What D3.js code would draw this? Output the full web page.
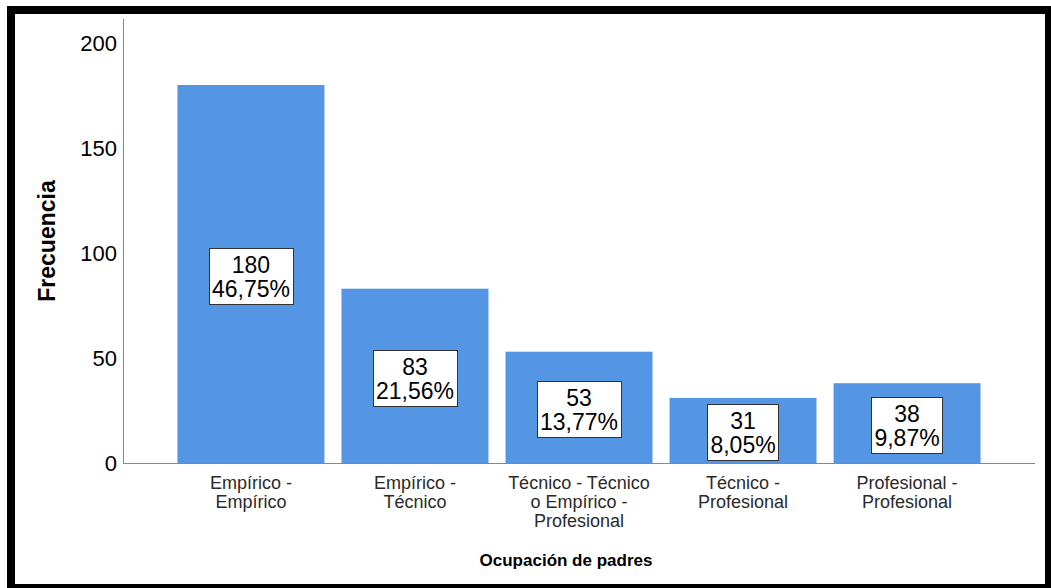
<!DOCTYPE html>
<html>
<head>
<meta charset="utf-8">
<script src="https://cdn.jsdelivr.net/npm/d3@7"></script>
<style>
  body { margin: 0; background: #fff; }
  svg text { font-family: "Liberation Sans", Arial, sans-serif; }
</style>
</head>
<body>
<script>
var width = 1051;
var height = 588;

// data
var categories = [
    ["Empírico -", "Empírico"],
    ["Empírico -", "Técnico"],
    ["Técnico - Técnico", "o Empírico -", "Profesional"],
    ["Técnico -", "Profesional"],
    ["Profesional -", "Profesional"]
];
var counts = [180, 83, 53, 31, 38];
var percents = ["46,75%", "21,56%", "13,77%", "8,05%", "9,87%"];
var yTicks = [0, 50, 100, 150, 200];

var plotLeft = 123, plotRight = 1035, plotTop = 43, plotBottom = 463;

var svg = d3.select("body").append("svg")
    .attr("width", width)
    .attr("height", height);

svg.append("rect")
    .attr("x", 11).attr("y", 10)
    .attr("width", 1038).attr("height", 578)
    .attr("fill", "none")
    .attr("stroke", "#000")
    .attr("stroke-width", 8);

var x = d3.scaleBand()
    .domain(d3.range(counts.length))
    .range([plotLeft, plotRight])
    .paddingInner(0.104)
    .paddingOuter(0.332);

var y = d3.scaleLinear()
    .domain([0, 200])
    .range([plotBottom, plotTop]);

// bars
svg.selectAll(".bar")
    .data(counts)
    .enter().append("rect")
    .attr("class", "bar")
    .attr("x", function(d, i) { return x(i); })
    .attr("y", function(d) { return y(d); })
    .attr("width", x.bandwidth())
    .attr("height", function(d) { return y(0) - y(d); })
    .attr("fill", "#5596e4");

// axes
var yAxis = svg.append("g")
    .attr("transform", "translate(" + plotLeft + ",0)")
    .call(d3.axisLeft(y).tickValues(yTicks).tickSize(0).tickPadding(6));
yAxis.select(".domain").attr("stroke", "#888").attr("d", "M0.5,19V" + plotBottom);
yAxis.selectAll("text")
    .attr("font-size", 22)
    .attr("fill", "#000")
    .style("font-family", "Liberation Sans, Arial, sans-serif");

svg.append("line")
    .attr("x1", plotLeft).attr("x2", plotRight)
    .attr("y1", plotBottom + 0.5).attr("y2", plotBottom + 0.5)
    .attr("stroke", "#888");

// category labels
var cat = svg.selectAll(".cat")
    .data(categories)
    .enter().append("text")
    .attr("class", "cat")
    .attr("text-anchor", "middle")
    .attr("font-size", 18)
    .attr("fill", "#2a2a2a");
cat.selectAll("tspan")
    .data(function(d, i) { return d.map(function(t) { return { t: t, i: i }; }); })
    .enter().append("tspan")
    .attr("x", function(d) { return x(d.i) + x.bandwidth() / 2; })
    .attr("y", function(d, j) { return 489 + j * 19; })
    .text(function(d) { return d.t; });

// value boxes
var labels = svg.selectAll(".lab")
    .data(counts)
    .enter().append("g")
    .attr("class", "lab");

labels.each(function(d, i) {
    var g = d3.select(this);
    var cx = x(i) + x.bandwidth() / 2;
    var cy = (y(d) + y(0)) / 2 + 2;
    var rect = g.append("rect").attr("fill", "#fff").attr("stroke", "#333").attr("stroke-width", 1);
    var t = g.append("text")
        .attr("text-anchor", "middle")
        .attr("font-size", 23)
        .attr("fill", "#000");
    t.append("tspan").attr("x", cx).attr("y", cy - 3).text(d);
    t.append("tspan").attr("x", cx).attr("y", cy + 21).text(percents[i]);
    var w = t.node().getBBox().width + 6;
    rect.attr("x", Math.round(cx - w / 2) + 0.5)
        .attr("y", Math.round(cy - 28) + 0.5)
        .attr("width", Math.round(w))
        .attr("height", 56);
});

// axis titles
svg.append("text")
    .attr("x", (plotLeft + plotRight) / 2 - 13)
    .attr("y", 566)
    .attr("text-anchor", "middle")
    .attr("font-size", 17)
    .attr("font-weight", "bold")
    .attr("fill", "#000")
    .text("Ocupación de padres");

svg.append("text")
    .attr("transform", "translate(55," + 241 + ") rotate(-90)")
    .attr("text-anchor", "middle")
    .attr("font-size", 23)
    .attr("font-weight", "bold")
    .attr("fill", "#000")
    .text("Frecuencia");
</script>
</body>
</html>
